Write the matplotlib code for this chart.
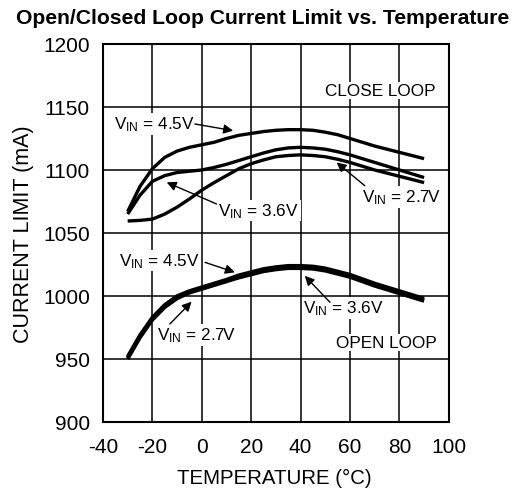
import matplotlib
matplotlib.use("Agg")
import matplotlib.pyplot as plt

plt.rcParams['font.family'] = ['Liberation Sans', 'DejaVu Sans']
plt.rcParams['axes.unicode_minus'] = False

temp = [-30, -25, -20, -15, -10, -5, 0, 5, 10, 15, 20, 25, 30, 35, 40, 45, 50, 55, 60, 65, 70, 75, 80, 85, 90]

close_45 = [1067, 1087, 1101, 1110, 1115, 1118, 1120, 1122, 1125, 1127.5, 1129, 1130.5, 1131.5, 1132, 1132,
            1131.5, 1130, 1128, 1125, 1122, 1119, 1116.5, 1114, 1111.5, 1109]
close_36 = [1065, 1080, 1091, 1095.5, 1098, 1099, 1100, 1102, 1104.5, 1107.5, 1110.5, 1113.5, 1116, 1117.5, 1118,
            1117.5, 1116.5, 1114.5, 1112, 1109, 1106, 1103, 1100, 1097, 1094]
close_27 = [1059.5, 1060, 1061, 1065, 1070.5, 1077, 1084, 1090, 1095.5, 1101, 1105, 1108, 1110.5, 1111.5, 1112,
            1111.5, 1110.5, 1108.5, 1106, 1103, 1100, 1097.5, 1095, 1092.5, 1090]

open_45 = [952, 969, 983, 993, 1000, 1004, 1007, 1010, 1013, 1016.5, 1019, 1021.5, 1023, 1024, 1024,
           1023.5, 1022, 1019.5, 1017, 1013.5, 1010, 1007, 1004, 1001, 998]
open_36 = [951, 968, 982, 992, 999, 1003, 1006, 1009, 1012, 1015.5, 1018, 1020.5, 1022, 1023, 1023,
           1022.5, 1021, 1018.5, 1016, 1012.5, 1009, 1006, 1003, 1000, 997]
open_27 = [950, 967, 981, 991, 998, 1002.5, 1005.5, 1008.5, 1011.5, 1014.5, 1017, 1019.5, 1021, 1022, 1022,
           1021.5, 1020, 1017.5, 1015, 1011.5, 1008, 1005, 1002, 999, 996]

x_ticks = [-40, -20, 0, 20, 40, 60, 80, 100]
y_ticks = [900, 950, 1000, 1050, 1100, 1150, 1200]

fig = plt.figure(figsize=(5.28, 4.89), dpi=100)
ax = fig.add_axes([0.195, 0.135, 0.655, 0.773])

for ys in (close_45, close_36, close_27):
    ax.plot(temp, ys, color='black', lw=2.4, solid_capstyle='butt', zorder=3)
for ys in (open_45, open_36, open_27):
    ax.plot(temp, ys, color='black', lw=2.6, solid_capstyle='butt', zorder=3)

ax.set_xlim(-40, 100)
ax.set_ylim(900, 1200)
ax.set_xticks(x_ticks)
ax.set_yticks(y_ticks)
ax.tick_params(length=0, labelsize=15)
ax.tick_params(axis='x', pad=10.5)
ax.tick_params(axis='y', pad=9.5)
ax.grid(True, color='black', lw=1.1)
ax.set_axisbelow(True)
for s in ax.spines.values():
    s.set_linewidth(1.5)

ax.set_xlabel('TEMPERATURE (°C)', fontsize=14.7)
ax.set_ylabel('CURRENT LIMIT (mA)', fontsize=15.5)
ax.xaxis.set_label_coords(0.495, -0.121)
ax.yaxis.set_label_coords(-0.198, 0.5)
fig.text(0.497, 0.962, 'Open/Closed Loop Current Limit vs. Temperature',
         ha='center', va='center', fontsize=15.2, fontweight='bold')

vin = r'$\mathregular{V_{IN}}$'
box = dict(facecolor='white', edgecolor='none', pad=1)
arrow = dict(arrowstyle='-|>', color='black', lw=1.0, mutation_scale=14, shrinkA=0, shrinkB=0)
fs = 12.3

labels = [
    (vin + ' = 4.5V', (-19.0, 1136.5), (-2.8, 1136.5), (12.7, 1131.2)),
    (vin + ' = 3.6V', (23.1, 1067.7), (6.0, 1073.0), (-14.2, 1090.2)),
    (vin + ' = 2.7V', (80.8, 1078.6), (66.0, 1087.5), (54.6, 1106.0)),
    (vin + ' = 4.5V', (-17.3, 1028.0), (1.3, 1026.7), (13.4, 1018.8)),
    (vin + ' = 2.7V', (-2.2, 969.0), (-12.9, 977.8), (-4.1, 995.5)),
    (vin + ' = 3.6V', (57.5, 990.5), (51.9, 995.0), (41.7, 1016.0)),
]
for txt, tpos, tail, head in labels:
    ax.text(tpos[0], tpos[1], txt, ha='center', va='center', fontsize=fs, bbox=box, zorder=5)
    ax.annotate('', xy=head, xytext=tail, arrowprops=arrow, zorder=6)

ax.text(94.6, 1163, 'CLOSE LOOP', ha='right', va='center', fontsize=fs, bbox=box, zorder=5)
ax.text(95, 963, 'OPEN LOOP', ha='right', va='center', fontsize=fs, bbox=box, zorder=5)

fig.savefig('out.png', dpi=100)
